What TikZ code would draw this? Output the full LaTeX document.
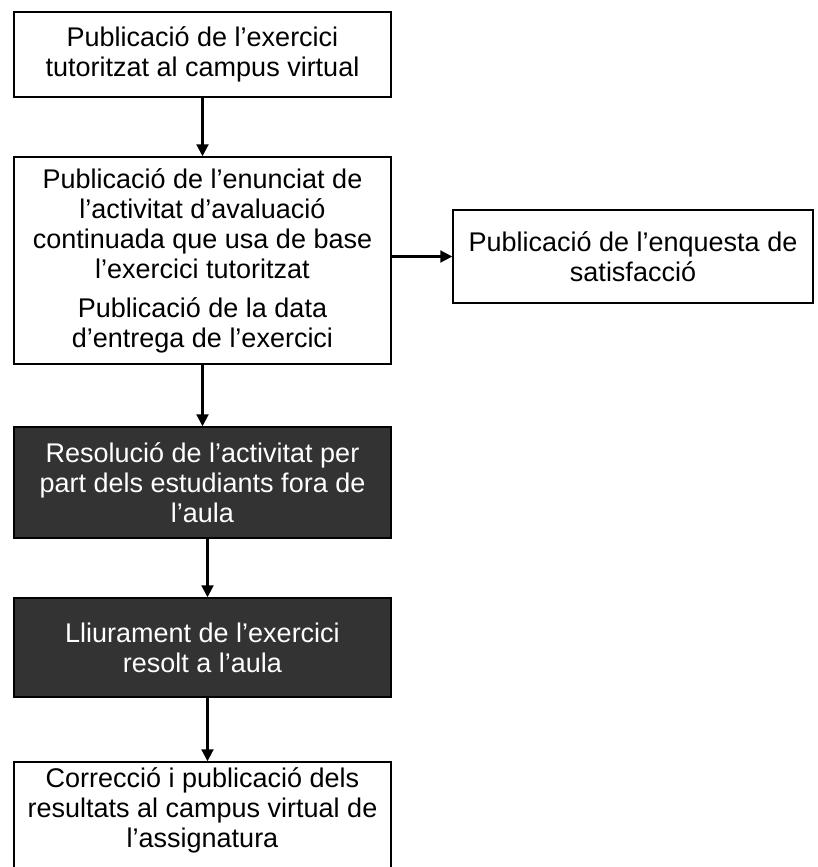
\documentclass[tikz,border=0pt]{standalone}
\usepackage{fontspec}
\setmainfont{Liberation Sans}
\usetikzlibrary{arrows.meta}
\definecolor{darkfill}{RGB}{51,51,51}
\tikzset{
  txt/.style={font=\fontsize{27}{30}\selectfont},
  box/.style={draw=black, line width=1.5pt, fill=white, minimum width=377pt, align=center,
    txt, inner sep=0pt},
  darkbox/.style={box, fill=darkfill, text=white},
  conn/.style={line width=2.2pt, -{Triangle[width=12pt,length=12pt]}}
}
\begin{document}
\begin{tikzpicture}[x=1pt,y=-1pt]
\useasboundingbox (0,0) rectangle (818,867);
\node[box, minimum height=85pt] (a) at (202.5,54.5) {Publicació de l’exercici\\tutoritzat al campus virtual};
\node[box, minimum height=207pt] (b) at (202.5,260.5) {Publicació de l’enunciat de\\l’activitat d’avaluació\\continuada que usa de base\\l’exercici tutoritzat\\[9pt]Publicació de la data\\d’entrega de l’exercici};
\node[box, minimum width=360pt, minimum height=93pt] (c) at (633,256.5) {Publicació de l’enquesta de\\satisfacció};
\node[darkbox, minimum height=111pt] (d) at (202.5,482.5) {Resolució de l’activitat per\\part dels estudiants fora de\\l’aula};
\node[darkbox, minimum height=99pt] (e) at (202.5,647.5) {Lliurament de l’exercici\\resolt a l’aula};
\node[box, minimum height=113pt] (f) at (202.5,818.5) {};
\node[align=center, txt, inner sep=0pt] (ft) at (202.5,810) {Correcció i publicació dels\\resultats al campus virtual de\\l’assignatura};
\draw[conn] (a.south) -- (b.north);
\draw[conn] (b.south) -- (d.north);
\draw[conn] (b.east |- c.west) -- (c.west);
\draw[conn] ([xshift=5pt]d.south) -- ([xshift=5pt]e.north);
\draw[conn] ([xshift=5pt]e.south) -- ([xshift=5pt]f.north);
\end{tikzpicture}
\end{document}
